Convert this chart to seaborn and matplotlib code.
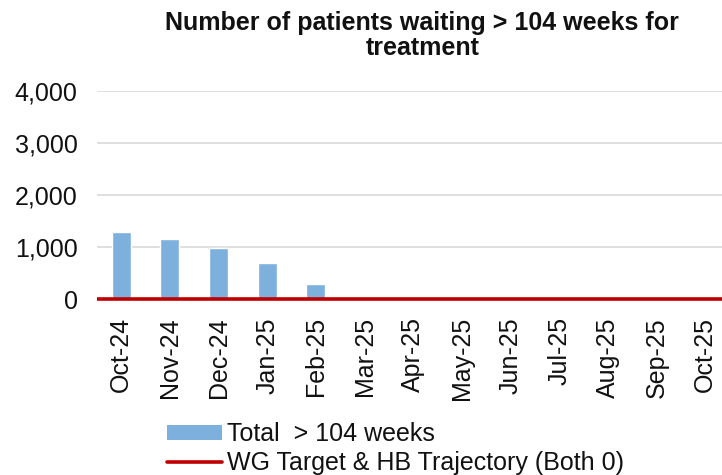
import pandas as pd
import seaborn as sns
import matplotlib.pyplot as plt
from matplotlib.patches import Patch
from matplotlib.lines import Line2D

# chart data
months = ["Oct-24", "Nov-24", "Dec-24", "Jan-25", "Feb-25", "Mar-25", "Apr-25",
          "May-25", "Jun-25", "Jul-25", "Aug-25", "Sep-25", "Oct-25"]
total_104 = [1285, 1160, 975, 685, 290, None, None, None, None, None, None, None, None]
target = [0] * 13

sns.set_theme(style="white")
plt.rcParams['font.family'] = ['Liberation Sans', 'DejaVu Sans']
plt.rcParams['text.color'] = '#111111'
plt.rcParams['xtick.color'] = '#111111'
plt.rcParams['ytick.color'] = '#111111'

df = pd.DataFrame({"month": months, "total": total_104, "target": target})

fig = plt.figure(figsize=(7.22, 4.75), dpi=100)
ax = fig.add_axes([0.1343, 0.3705, 0.876, 0.438])

sns.barplot(data=df, x="month", y="total", color="#7EB0DE", width=0.39,
            saturation=1, ax=ax, zorder=2)

# target line, one segment per month so it runs edge to edge
for i, v in enumerate(df["target"]):
    ax.hlines(v, i - 0.5, i + 0.5, color="#C00000", linewidth=2.6, zorder=3,
              clip_on=False)

ax.set_ylim(0, 4000)
ax.set_xlim(-0.5, len(months) - 0.5)
ax.set_yticks([0, 1000, 2000, 3000, 4000])
ax.set_yticklabels(["0", "1,000", "2,000", "3,000", "4,000"], fontsize=18)
ax.tick_params(axis="x", labelrotation=90, labelsize=18, pad=13, length=0)
ax.tick_params(axis="y", pad=14, length=0)
ax.yaxis.grid(True, color="#D9D9D9", linewidth=1.2, zorder=0)
ax.set_axisbelow(True)
for s in ax.spines.values():
    s.set_visible(False)
ax.set_xlabel("")
ax.set_ylabel("")

fig.text(0.585, 0.925, "Number of patients waiting > 104 weeks for\ntreatment",
         ha="center", va="center", fontsize=18, fontweight="bold", linespacing=1.05)

handles = [Patch(facecolor="#7EB0DE", edgecolor="none"),
           Line2D([0], [0], color="#C00000", linewidth=2.6)]
fig.legend(handles, ["Total  > 104 weeks", "WG Target & HB Trajectory (Both 0)"],
           loc="center left", bbox_to_anchor=(0.231, 0.055), frameon=False,
           fontsize=18, handlelength=2.2, handleheight=0.52, handletextpad=0.2,
           labelspacing=0.2, borderpad=0, borderaxespad=0)

fig.savefig("out.png", dpi=100)
